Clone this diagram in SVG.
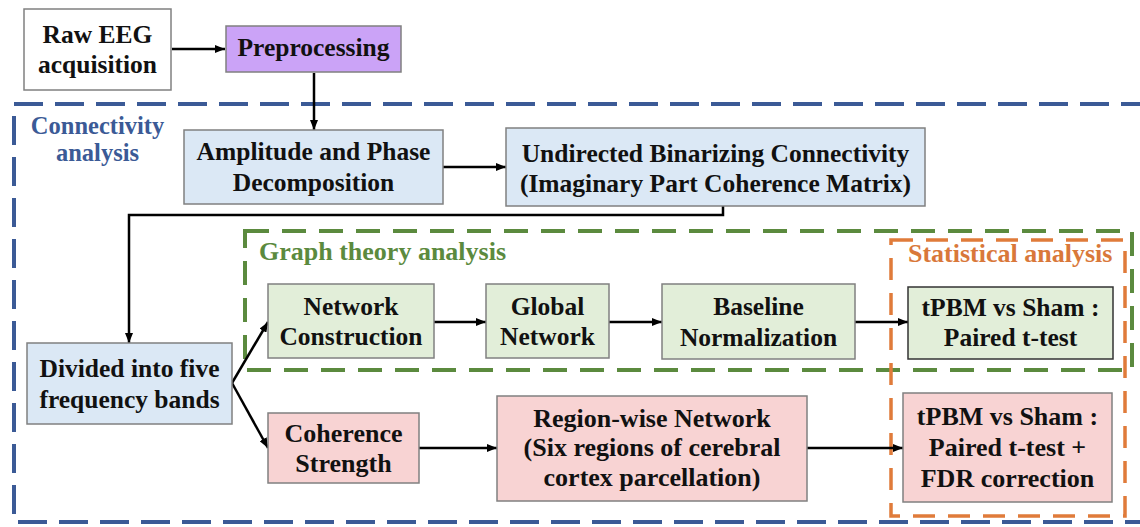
<svg xmlns="http://www.w3.org/2000/svg" width="1140" height="527" viewBox="0 0 1140 527">
  <style>
    text { font-family: "Liberation Serif", "Times New Roman", serif; font-weight: bold; font-size: 25.5px; fill: #111; text-anchor: middle; }
    .box { stroke: #808080; stroke-width: 1.5; }
    .white { fill: #ffffff; }
    .purple { fill: #cba3f7; }
    .blue { fill: #dbe8f5; }
    .green { fill: #e2eed9; }
    .pink { fill: #f8d3d3; }
    .pink-text { font-size: 26px; }
    .dark { stroke: #333333; }
    .frame { fill: none; }
    .f-blue { stroke: #3b5a96; stroke-width: 4; stroke-dasharray: 29 12; }
    .f-green { stroke: #5b8a3e; stroke-width: 4; stroke-dasharray: 24 13; }
    .f-orange { stroke: #e07b3a; stroke-width: 3.5; stroke-dasharray: 22 13; }
    .lbl-blue { fill: #3b5a96; font-size: 24.5px; }
    .lbl-green { fill: #5b8a3e; text-anchor: start; font-size: 26px; }
    .lbl-orange { fill: #d9783a; text-anchor: start; font-size: 26px; }
    .link { fill: none; stroke: #000; stroke-width: 2.5; marker-end: url(#arrow); }
  </style>
  <defs>
    <marker id="arrow" markerUnits="userSpaceOnUse" markerWidth="10" markerHeight="8" refX="10" refY="4" orient="auto">
      <path d="M0,0 L10,4 L0,8 Z" fill="#000"/>
    </marker>
  </defs>

  <!-- dashed grouping frames -->
  <g id="frames">
    <rect class="frame f-blue" x="14" y="104" width="1140" height="418"/>
    <text class="lbl-blue" x="97.5" y="134">Connectivity</text>
    <text class="lbl-blue" x="97.5" y="161">analysis</text>

    <rect class="frame f-green" x="245" y="231" width="887" height="139"/>
    <text class="lbl-green" x="259" y="260">Graph theory analysis</text>

    <rect class="frame f-orange" x="891" y="240" width="234" height="276"/>
    <text class="lbl-orange" x="908" y="262">Statistical analysis</text>
  </g>

  <!-- connectors -->
  <g id="connectors">
    <line class="link" x1="172" y1="49" x2="225" y2="49"/>
    <line class="link" x1="314" y1="73" x2="314" y2="130"/>
    <line class="link" x1="443" y1="167" x2="506" y2="167"/>
    <polyline class="link" points="723,206 723,215 129,215 129,343"/>
    <line class="link" x1="232" y1="383" x2="268" y2="322"/>
    <line class="link" x1="232" y1="383" x2="268" y2="448"/>
    <line class="link" x1="434" y1="322" x2="486" y2="322"/>
    <line class="link" x1="609" y1="322" x2="662" y2="322"/>
    <line class="link" x1="855" y1="322" x2="908" y2="322"/>
    <line class="link" x1="419" y1="448" x2="497" y2="448"/>
    <line class="link" x1="807" y1="448" x2="903" y2="448"/>
  </g>

  <!-- nodes -->
  <g id="raw-eeg">
    <rect class="box white" x="24" y="9" width="147" height="81"/>
    <text x="97.5" y="43">Raw EEG</text>
    <text x="97.5" y="73">acquisition</text>
  </g>
  <g id="preprocessing">
    <rect class="box purple" x="226" y="26" width="175" height="46"/>
    <text x="313.5" y="56">Preprocessing</text>
  </g>
  <g id="decomposition">
    <rect class="box blue" x="184" y="130" width="259" height="74"/>
    <text x="313.5" y="160">Amplitude and Phase</text>
    <text x="313.5" y="191">Decomposition</text>
  </g>
  <g id="connectivity">
    <rect class="box blue" x="506" y="128" width="419" height="78"/>
    <text x="715.5" y="162" font-size="24.5">Undirected Binarizing Connectivity</text>
    <text x="715.5" y="192" font-size="24.5">(Imaginary Part Coherence Matrix)</text>
  </g>
  <g id="bands">
    <rect class="box blue" x="27" y="343" width="205" height="81"/>
    <text x="129.5" y="377">Divided into five</text>
    <text x="129.5" y="408">frequency bands</text>
  </g>
  <g id="network-construction">
    <rect class="box green" x="268" y="284" width="166" height="74"/>
    <text x="351" y="315">Network</text>
    <text x="351" y="345">Construction</text>
  </g>
  <g id="global-network">
    <rect class="box green" x="486" y="284" width="123" height="74"/>
    <text x="547.5" y="315">Global</text>
    <text x="547.5" y="345">Network</text>
  </g>
  <g id="baseline-normalization">
    <rect class="box green" x="662" y="284" width="193" height="75"/>
    <text x="758.5" y="315">Baseline</text>
    <text x="758.5" y="346">Normalization</text>
  </g>
  <g id="paired-test">
    <rect class="box green dark" x="908" y="287" width="205" height="72"/>
    <text x="1010.5" y="316">tPBM vs Sham :</text>
    <text x="1010.5" y="346">Paired t-test</text>
  </g>
  <g id="coherence-strength">
    <rect class="box pink" x="268" y="413" width="151" height="70"/>
    <text class="pink-text" x="343.5" y="442">Coherence</text>
    <text class="pink-text" x="343.5" y="472">Strength</text>
  </g>
  <g id="region-wise">
    <rect class="box pink" x="497" y="396" width="310" height="105"/>
    <text class="pink-text" x="652" y="427">Region-wise Network</text>
    <text class="pink-text" x="652" y="456">(Six regions of cerebral</text>
    <text class="pink-text" x="652" y="486">cortex parcellation)</text>
  </g>
  <g id="fdr-test">
    <rect class="box pink" x="903" y="393" width="209" height="109"/>
    <text class="pink-text" x="1007.5" y="425">tPBM vs Sham :</text>
    <text class="pink-text" x="1007.5" y="456">Paired t-test +</text>
    <text class="pink-text" x="1007.5" y="487">FDR correction</text>
  </g>
</svg>
